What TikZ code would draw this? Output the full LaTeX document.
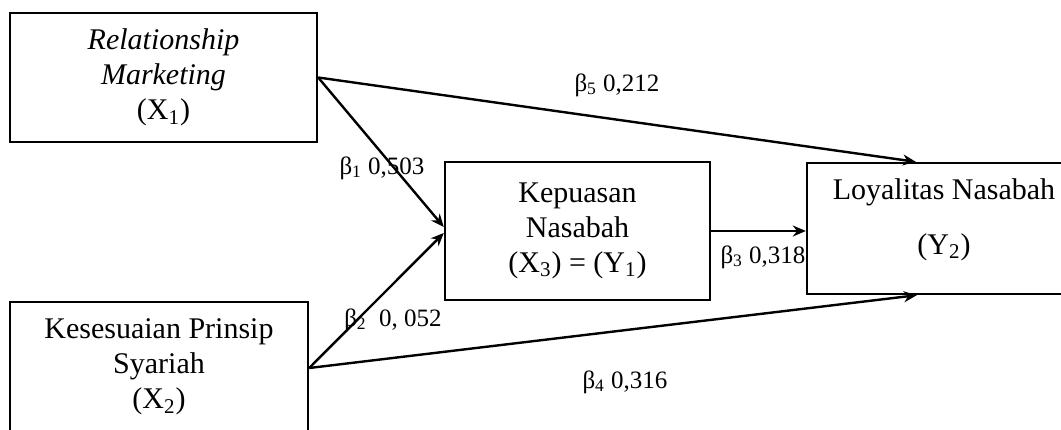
\documentclass[tikz,border=0pt]{standalone}
\usepackage{fontspec}
\setmainfont{Liberation Serif}
\usetikzlibrary{arrows.meta,calc}

\begin{document}
\begin{tikzpicture}[x=0.5pt, y=-0.5pt,
      box/.style={draw, line width=1.2pt, align=center, inner sep=0pt,
        font=\fontsize{15}{17.5}\selectfont},
      arr/.style={-{Stealth[length=6.5pt, width=5.5pt]}, line width=1.2pt},
      lbl/.style={font=\fontsize{12.5}{14}\selectfont, inner sep=1pt}]
    \useasboundingbox (0,0) rectangle (1061,429);
    % variables
    \node[box, minimum width=153.5pt, minimum height=64.5pt] (x1) at (163.5,77.5)
      {\textit{Relationship}\\ \textit{Marketing}\\ (X\textsubscript{1})};
    \node[box, minimum width=149pt, minimum height=66pt] (x2) at (159,368)
      {Kesesuaian Prinsip\\ Syariah\\ (X\textsubscript{2})\rule[-4pt]{0pt}{1pt}};
    \node[box, minimum width=132.5pt, minimum height=69pt] (x3) at (577.5,231)
      {Kepuasan\\ Nasabah\\ (X\textsubscript{3}) = (Y\textsubscript{1})};
    \node[box, minimum width=137pt, minimum height=65.5pt] (y2) at (944,228.5)
      {Loyalitas Nasabah\\[10pt] (Y\textsubscript{2})\rule[-12pt]{0pt}{1pt}};
    % paths
    \draw[arr] (x1.east) -- ($(y2.north west)+(110,0)$);
    \draw[arr] (x1.east) -- ($(x3.west)+(0,-4)$);
    \draw[arr] (x2.east) -- ($(x3.west)+(0,2)$);
    \draw[arr] (x3.east) -- (x3.east -| y2.west);
    \draw[arr] (x2.east) -- ($(y2.south west)+(111,0)$);
    % coefficients
    \node[lbl] (b5) at (617,85) {β\textsubscript{5} 0,212};
    \node[lbl] (b1) at (382,168) {β\textsubscript{1} 0,503};
    \node[lbl] (b2) at (393,320) {β\textsubscript{2}\ \ 0, 052};
    \node[lbl] (b3) at (763,257) {β\textsubscript{3} 0,318};
    \node[lbl] (b4) at (625,382) {β\textsubscript{4} 0,316};
  \end{tikzpicture}
\end{document}
